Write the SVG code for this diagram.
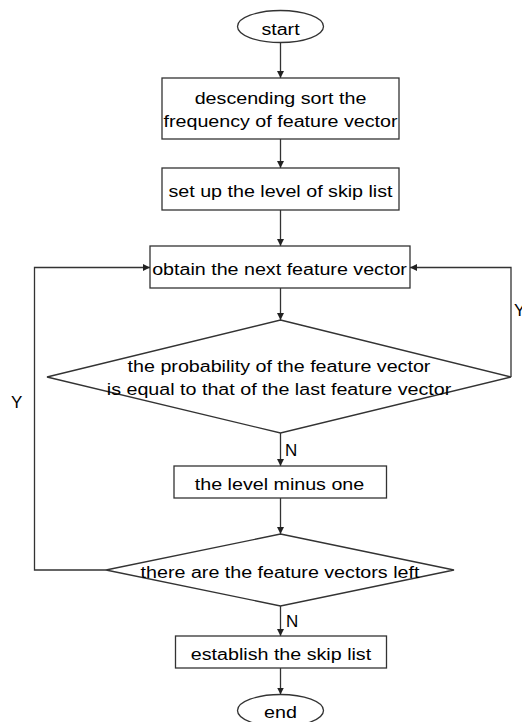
<svg xmlns="http://www.w3.org/2000/svg" width="522" height="722" viewBox="0 0 522 722">
<style>
.shape{fill:#fff;stroke:#333;stroke-width:1.3}
.conn{fill:none;stroke:#333;stroke-width:1.3}
.t{font-family:"Liberation Sans",Arial,sans-serif;font-size:16px;fill:#000;text-anchor:middle}
.lbl{font-family:"Liberation Sans",Arial,sans-serif;font-size:17px;fill:#000}
</style>
<defs>
<marker id="arr" viewBox="0 0 10 10" refX="10" refY="5" markerWidth="7" markerHeight="7" markerUnits="userSpaceOnUse" orient="auto">
<path d="M0,0 L10,5 L0,10 z" fill="#222"/>
</marker>
</defs>
<rect width="522" height="722" fill="#fff"/>
<g id="connectors">
<line class="conn" x1="280.5" y1="42.5" x2="280.5" y2="78" marker-end="url(#arr)"/>
<line class="conn" x1="280.5" y1="139" x2="280.5" y2="168" marker-end="url(#arr)"/>
<line class="conn" x1="280.5" y1="210" x2="280.5" y2="246" marker-end="url(#arr)"/>
<line class="conn" x1="280.5" y1="288" x2="280.5" y2="320" marker-end="url(#arr)"/>
<line class="conn" x1="280.5" y1="433" x2="280.5" y2="466" marker-end="url(#arr)"/>
<line class="conn" x1="280.5" y1="498" x2="280.5" y2="534" marker-end="url(#arr)"/>
<line class="conn" x1="280.5" y1="606" x2="280.5" y2="636" marker-end="url(#arr)"/>
<line class="conn" x1="280.5" y1="668" x2="280.5" y2="694.5" marker-end="url(#arr)"/>
<polyline class="conn" points="511,377 511,267.5 410,267.5" marker-end="url(#arr)"/>
<polyline class="conn" points="106,570 34.5,570 34.5,267.5 150,267.5" marker-end="url(#arr)"/>
<text class="lbl" x="285" y="456">N</text>
<text class="lbl" x="286" y="627">N</text>
<text class="lbl" x="11" y="408">Y</text>
<text class="lbl" x="514" y="316">Y</text>
</g>
<g id="start">
<ellipse class="shape" cx="280.5" cy="26.5" rx="43" ry="16"/>
<text class="t" transform="translate(280.5,34.5) scale(1.23,1)">start</text>
</g>
<g id="sort">
<rect class="shape" x="162" y="78" width="237" height="61"/>
<text class="t" transform="translate(280.5,104) scale(1.23,1)">descending sort the</text>
<text class="t" transform="translate(280.5,127) scale(1.23,1)">frequency of feature vector</text>
</g>
<g id="setlevel">
<rect class="shape" x="162" y="168" width="237" height="42"/>
<text class="t" transform="translate(280.5,197) scale(1.23,1)">set up the level of skip list</text>
</g>
<g id="obtain">
<rect class="shape" x="150" y="246" width="260" height="42"/>
<text class="t" transform="translate(279.5,275) scale(1.23,1)">obtain the next feature vector</text>
</g>
<g id="decision1">
<polygon class="shape" points="280.5,320 511,377 280.5,433 47,377"/>
<text class="t" transform="translate(279,372) scale(1.23,1)">the probability of the feature vector</text>
<text class="t" transform="translate(279,395) scale(1.23,1)">is equal to that of the last feature vector</text>
</g>
<g id="minus">
<rect class="shape" x="174" y="466" width="212.5" height="32"/>
<text class="t" transform="translate(279.5,490) scale(1.23,1)">the level minus one</text>
</g>
<g id="decision2">
<polygon class="shape" points="280.5,534 454,570 280.5,606 106,570"/>
<text class="t" transform="translate(280,578) scale(1.23,1)">there are the feature vectors left</text>
</g>
<g id="establish">
<rect class="shape" x="175.5" y="636" width="211" height="32"/>
<text class="t" transform="translate(281,659.5) scale(1.23,1)">establish the skip list</text>
</g>
<g id="end">
<ellipse class="shape" cx="280.5" cy="710.5" rx="43" ry="16"/>
<text class="t" transform="translate(280.5,718) scale(1.23,1)">end</text>
</g>
</svg>
